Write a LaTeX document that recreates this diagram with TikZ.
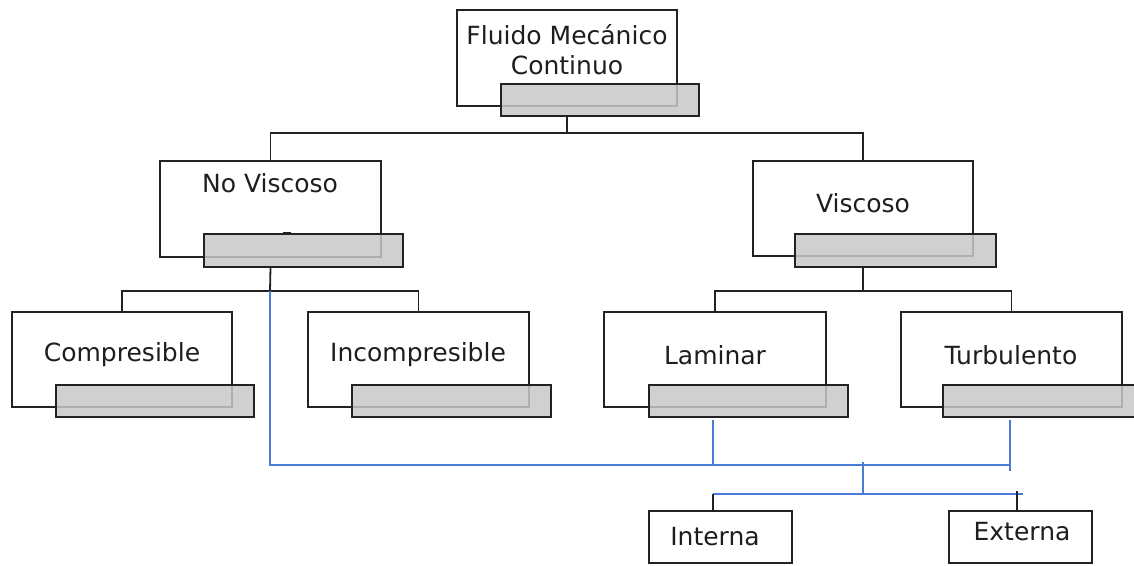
\documentclass[tikz,border=0pt]{standalone}
\usepackage{fontspec}
\setmainfont{DejaVu Sans}
\definecolor{ln}{RGB}{34,34,34}
\definecolor{bl}{RGB}{74,123,216}
\definecolor{gf}{RGB}{200,200,200}
\definecolor{tx}{RGB}{30,30,30}
\begin{document}
\begin{tikzpicture}[x=1pt,y=-1pt,
  wbox/.style={draw=ln,line width=1.8pt,fill=white,rectangle,inner sep=0pt,outer sep=0pt},
  gbox/.style={draw=ln,line width=1.8pt,fill=gf,fill opacity=0.85,draw opacity=1,rectangle,inner sep=0pt,outer sep=0pt},
  lbl/.style={text=tx,font=\fontsize{25}{30}\selectfont,inner sep=0pt},
  tree/.style={draw=ln,line width=1.8pt},
  blu/.style={draw=bl,line width=1.8pt}]
\useasboundingbox (0,0) rectangle (1134,565);
\fill[white] (0,0) rectangle (1134,565);

% boxes
\node[wbox,minimum width=220pt,minimum height=96pt] (topW) at (567,58) {};
\node[gbox,minimum width=198pt,minimum height=32pt] (topG) at (600,100) {};
\node[wbox,minimum width=221pt,minimum height=96pt] (nvW) at (270.5,209) {};
\node[gbox,minimum width=199pt,minimum height=33pt] (nvG) at (303.5,250.5) {};
\node[wbox,minimum width=220pt,minimum height=95pt] (vW) at (863,208.5) {};
\node[gbox,minimum width=201pt,minimum height=33pt] (vG) at (895.5,250.5) {};
\node[wbox,minimum width=220pt,minimum height=95pt] (compW) at (122,359.5) {};
\node[gbox,minimum width=198pt,minimum height=32pt] (compG) at (155,401) {};
\node[wbox,minimum width=221pt,minimum height=95pt] (incW) at (418.5,359.5) {};
\node[gbox,minimum width=199pt,minimum height=32pt] (incG) at (451.5,401) {};
\node[wbox,minimum width=222pt,minimum height=95pt] (lamW) at (715,359.5) {};
\node[gbox,minimum width=199pt,minimum height=32pt] (lamG) at (748.5,401) {};
\node[wbox,minimum width=221pt,minimum height=95pt] (turW) at (1011.5,359.5) {};
\node[gbox,minimum width=200pt,minimum height=32pt] (turG) at (1043,401) {};
\node[wbox,minimum width=143pt,minimum height=52pt] (intB) at (720.5,537) {};
\node[wbox,minimum width=143pt,minimum height=52pt] (extB) at (1020.5,537) {};

% labels
\node[lbl,align=center] (topT) at (567,50) {Fluido Mecánico\\Continuo};
\node[lbl] (nvT) at (270,183) {No Viscoso};
\node[lbl] (vT) at (863,203) {Viscoso};
\node[lbl] (compT) at (122,355) {Compresible};
\node[lbl] (incT) at (418,355) {Incompresible};
\node[lbl] (lamT) at (715,355) {Laminar};
\node[lbl] (turT) at (1011,355) {Turbulento};
\node[lbl] (intT) at (715,537) {Interna};
\node[lbl] (extT) at (1022,532) {Externa};

% small mark
\fill[ln] (283,231.5) rectangle (291,235);

% black tree
\coordinate (j0) at (567,133);
\coordinate (j1) at (270,291);
\coordinate (j2) at (863,291);
\draw[tree] (topW.center |- topG.south) -- (j0);
\draw[tree] (nvW.north) |- (vW.north |- j0) -- (vW.north);
\draw[tree] (nvW.center |- nvG.south) -- (j1);
\draw[tree] (compW.north) |- (incW.north |- j1) -- (incW.north);
\draw[tree] (vW.center |- vG.south) -- (j2);
\draw[tree] (lamW.north) |- (turW.north |- j2) -- (turW.north);

% blue lines
\coordinate (bL) at (270,465);
\coordinate (bR) at (1010,465);
\coordinate (bC) at (863,465);
\coordinate (iD) at (713,494);
\coordinate (eR) at (1023,494);
\coordinate (eT) at (1017,491);
\draw[blu] (j1) -- (bL) -- (bR);
\draw[blu] ([yshift=-3pt]iD |- lamG.south) -- (iD |- bL);
\draw[blu] ([yshift=-3pt]bR |- turG.south) -- ([yshift=-6pt]bR);
\draw[blu] ([yshift=3pt]bC) -- (bC |- iD);
\draw[blu] (iD) -- (eR);
\draw[tree] (iD) -- (iD |- intB.north);
\draw[tree] (eT) -- (eT |- extB.north);
\end{tikzpicture}
\end{document}
